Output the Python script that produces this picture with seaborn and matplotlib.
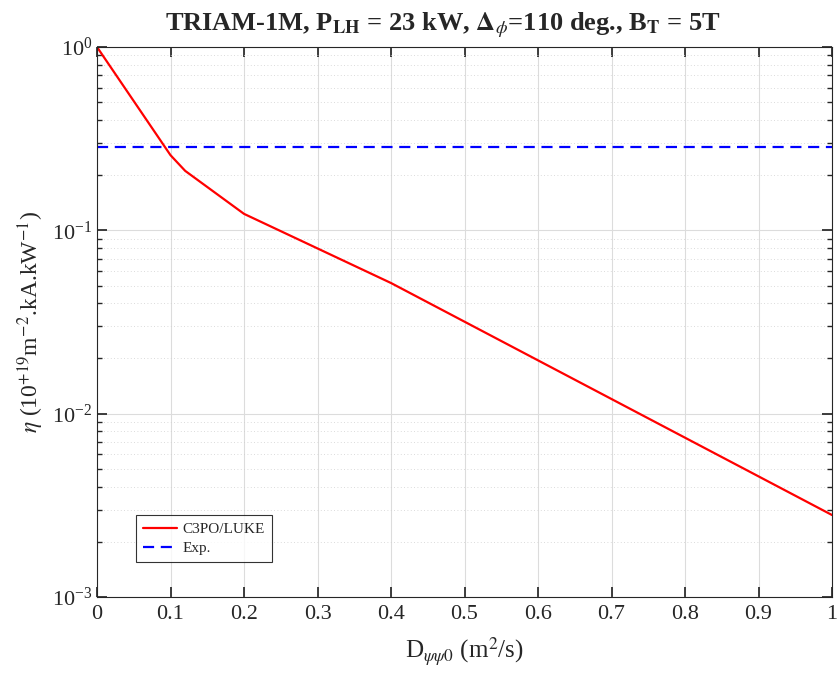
import pandas as pd
import numpy as np
import matplotlib
matplotlib.use("Agg")
import matplotlib.pyplot as plt
import seaborn as sns

# data
d_psi = [0.0, 0.1, 0.12, 0.2, 0.4, 1.0]
eta_luke = [1.0, 0.257, 0.211, 0.123, 0.0516, 0.0028]
eta_exp = 0.286
x_ticks = [0, 0.1, 0.2, 0.3, 0.4, 0.5, 0.6, 0.7, 0.8, 0.9, 1]

sns.set_theme(style="white")
plt.rcParams["font.family"] = ["Liberation Serif", "DejaVu Serif"]
plt.rcParams["mathtext.fontset"] = "stix"
plt.rcParams["xtick.direction"] = "in"
plt.rcParams["ytick.direction"] = "in"

df = pd.DataFrame({"D": d_psi, "eta": eta_luke})
df_exp = pd.DataFrame({"D": [0.0, 1.0], "eta": [eta_exp, eta_exp]})

fig = plt.figure(figsize=(8.38, 6.87), dpi=100)
ax = fig.add_axes([97/838, 90/687, 735/838, 550/687])

sns.lineplot(data=df, x="D", y="eta", ax=ax, color="red", lw=1.6, label="C3PO/LUKE")
sns.lineplot(data=df_exp, x="D", y="eta", ax=ax, color="blue", lw=1.6,
             linestyle=(0, (5, 3)), label="Exp.")

ax.set_yscale("log")
ax.set_xlim(0, 1)
ax.set_ylim(1e-3, 1)
ax.set_xticks(x_ticks)
ax.set_xticklabels([f"{t:g}" for t in x_ticks])

ax.grid(True, which="major", color="#dcdcdc", lw=0.8)
ax.grid(True, which="minor", axis="y", color="#cfcfcf", lw=0.6, linestyle=(0, (1, 3)))
ax.tick_params(which="both", top=True, right=True, left=True, bottom=True,
               labelsize=16, colors="#262626")
ax.tick_params(which="major", length=7)
ax.tick_params(which="minor", length=3.5)
ax.tick_params(axis="x", pad=6)
for s in ax.spines.values():
    s.set_color("#262626")
    s.set_linewidth(0.8)

ax.set_xlabel(r"D$_{\psi\psi 0}$ (m$^2$/s)", fontsize=18, labelpad=8)
ax.set_ylabel(r"$\eta$ (10$^{+19}$m$^{-2}$.kA.kW$^{-1}$)", fontsize=17, labelpad=4)
ax.set_title(r"TRIAM-1M, P$_{\mathbf{LH}}$ = 23 kW, $\mathbf{\Delta}_{\phi}$=110 deg., B$_{\mathbf{T}}$ = 5T",
             fontsize=19, fontweight="bold", pad=12, x=0.47)

leg = ax.legend(loc="lower left", bbox_to_anchor=(0.043, 0.05), fontsize=11,
                frameon=True, fancybox=False, edgecolor="black", handlelength=2.2,
                handletextpad=0.4, borderpad=0.45, labelspacing=0.35)
leg.get_frame().set_linewidth(0.8)

fig.savefig("out.png", dpi=100)
